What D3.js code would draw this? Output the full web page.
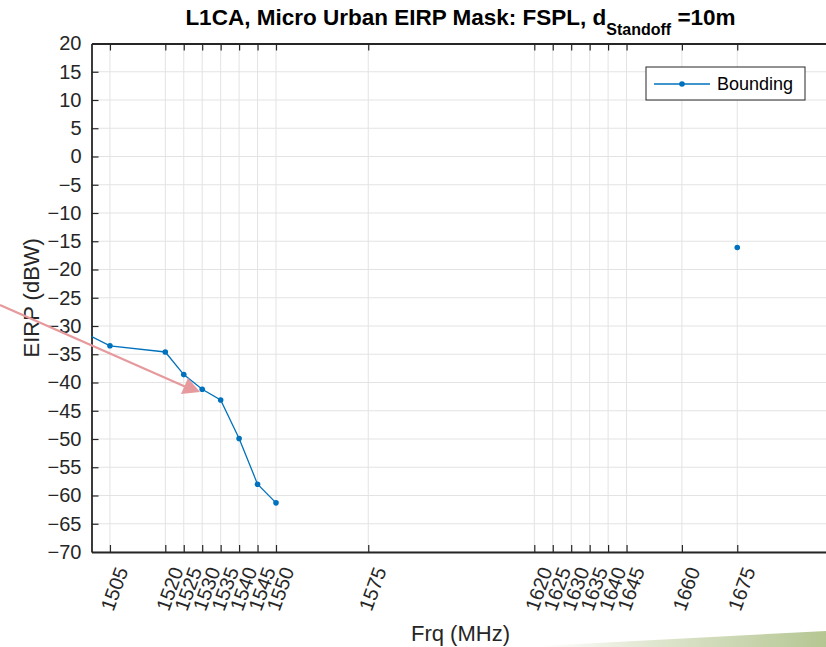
<!DOCTYPE html>
<html>
<head>
<meta charset="utf-8">
<title>L1CA EIRP Mask</title>
<script src="https://cdn.jsdelivr.net/npm/d3@7"></script>
<style>
  body { margin: 0; background: #fff; }
  svg text { font-family: "Liberation Sans", Arial, Helvetica, sans-serif; fill: #262626; }
</style>
</head>
<body>
<div id="chart"></div>
<script>
// data (first point sits left of the axis and is clipped)
const freqs = [1490, 1505, 1520, 1525, 1530, 1535, 1540, 1545, 1550, null, 1675];
const eirp  = [-28.6, -33.5, -34.6, -38.6, -41.2, -43.1, -49.9, -58.0, -61.3, null, -16.1];
const xTicks = [1505, 1520, 1525, 1530, 1535, 1540, 1545, 1550, 1575,
                1620, 1625, 1630, 1635, 1640, 1645, 1660, 1675];
const yTicks = d3.range(-70, 21, 5);
const seriesName = "Bounding";

const width = 826, height = 647;
const pLeft = 91.5, pRight = 829.5, pTop = 43.5, pBottom = 552;
const blue = "#0072BD", axisCol = "#262626";

const x = d3.scaleLinear().domain([1500, 1700]).range([pLeft, pRight]);
const y = d3.scaleLinear().domain([-70, 20]).range([pBottom, pTop]);

const svg = d3.select("#chart").append("svg")
  .attr("width", width).attr("height", height);

svg.append("defs").append("clipPath").attr("id", "plot")
  .append("rect").attr("x", pLeft).attr("y", pTop)
  .attr("width", pRight - pLeft).attr("height", pBottom - pTop);

// grid
const grid = svg.append("g").attr("stroke", "#e3e3e3").attr("stroke-width", 1);
grid.selectAll(".gx").data(xTicks).enter().append("line")
  .attr("x1", d => x(d)).attr("x2", d => x(d))
  .attr("y1", pTop).attr("y2", pBottom);
grid.selectAll(".gy").data(yTicks).enter().append("line")
  .attr("x1", pLeft).attr("x2", pRight)
  .attr("y1", d => y(d)).attr("y2", d => y(d));

// axes (ticks point inward, box on)
const xb = svg.append("g").attr("transform", `translate(0,${pBottom})`)
  .call(d3.axisBottom(x).tickValues(xTicks).tickSizeInner(-7).tickSizeOuter(0).tickFormat(""));
const xt = svg.append("g").attr("transform", `translate(0,${pTop})`)
  .call(d3.axisTop(x).tickValues(xTicks).tickSizeInner(-7).tickSizeOuter(0).tickFormat(""));
const yl = svg.append("g").attr("transform", `translate(${pLeft},0)`)
  .call(d3.axisLeft(y).tickValues(yTicks).tickSizeInner(-7).tickSizeOuter(0).tickPadding(10));
[xb, xt, yl].forEach(g => {
  g.select(".domain").attr("stroke", axisCol).attr("stroke-width", 1.8);
  g.selectAll(".tick line").attr("stroke", axisCol).attr("stroke-width", 1.2);
});
yl.selectAll(".tick line").filter(d => d === 20 || d === -70).remove();
yl.selectAll(".tick text").attr("font-size", 20)
  .attr("font-family", "Liberation Sans, Arial, sans-serif");

// rotated x tick labels
svg.append("g").selectAll("text").data(xTicks).enter().append("text")
  .attr("transform", d => `translate(${x(d) + 12},${pBottom + 16}) rotate(-70)`)
  .attr("text-anchor", "end").attr("dy", "0.35em")
  .attr("font-size", 20)
  .text(d => d);

// series
const pts = freqs.map((f, i) => ({ f, v: eirp[i] }));
const plot = svg.append("g").attr("clip-path", "url(#plot)");
plot.append("path")
  .datum(pts)
  .attr("fill", "none").attr("stroke", blue).attr("stroke-width", 1.3)
  .attr("d", d3.line().defined(d => d.f !== null).x(d => x(d.f)).y(d => y(d.v)));
plot.selectAll("circle").data(pts.filter(d => d.f !== null)).enter().append("circle")
  .attr("cx", d => x(d.f)).attr("cy", d => y(d.v)).attr("r", 2.8).attr("fill", blue);

// title
const title = svg.append("text")
  .attr("x", (pLeft + pRight) / 2).attr("y", 25)
  .attr("text-anchor", "middle").attr("font-size", 22.5).attr("font-weight", "bold")
  .style("fill", "#000");
title.append("tspan").text("L1CA, Micro Urban EIRP Mask: FSPL, d");
title.append("tspan").attr("dy", 10).attr("font-size", 16).text("Standoff");
title.append("tspan").attr("dy", -10).text(" =10m");

// axis labels
svg.append("text").attr("x", (pLeft + pRight) / 2).attr("y", 641)
  .attr("text-anchor", "middle").attr("font-size", 22).text("Frq (MHz)");
svg.append("text").attr("transform", `translate(39,${(pTop + pBottom) / 2}) rotate(-90)`)
  .attr("text-anchor", "middle").attr("font-size", 22).text("EIRP (dBW)");

// legend
const lg = svg.append("g").attr("transform", "translate(646,67)");
lg.append("rect").attr("width", 159).attr("height", 33)
  .attr("fill", "#fff").attr("stroke", "#262626").attr("stroke-width", 1);
lg.append("line").attr("x1", 8).attr("x2", 64).attr("y1", 17).attr("y2", 17)
  .attr("stroke", blue).attr("stroke-width", 1.3);
lg.append("circle").attr("cx", 36).attr("cy", 17).attr("r", 2.8).attr("fill", blue);
lg.append("text").attr("x", 71).attr("y", 23).attr("font-size", 18)
  .style("fill", "#000").text(seriesName);

// pink annotation arrow
const pink = "#e69a9d";
svg.append("line").attr("x1", 0).attr("y1", 305).attr("x2", 186).attr("y2", 387)
  .attr("stroke", pink).attr("stroke-width", 2.2);
svg.append("path").attr("d", "M181,394 L188,378 L200,392 Z").attr("fill", pink);

// green decorative strip at bottom right
const gr = svg.select("defs").append("linearGradient").attr("id", "strip")
  .attr("x1", "0%").attr("x2", "100%");
gr.append("stop").attr("offset", "0%").attr("stop-color", "#fff");
gr.append("stop").attr("offset", "40%").attr("stop-color", "#dfe6cf");
gr.append("stop").attr("offset", "100%").attr("stop-color", "#b5c692");
svg.append("path").attr("d", "M540,646 L826,631 L826,647 L540,647 Z").attr("fill", "url(#strip)");
</script>
</body>
</html>
